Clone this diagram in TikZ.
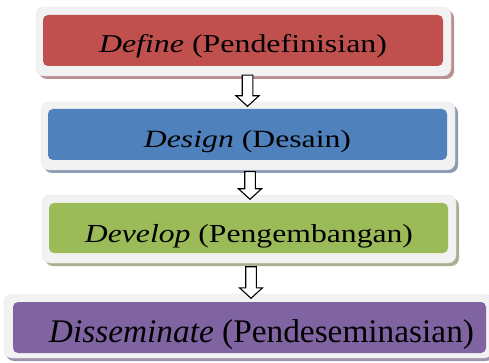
\documentclass[tikz,border=0pt]{standalone}
\usepackage{fontspec}
\setmainfont{Liberation Serif}
\usetikzlibrary{calc,shadows}
\definecolor{cRed}{HTML}{C0504D}
\definecolor{cBlue}{HTML}{4F81BD}
\definecolor{cGreen}{HTML}{9BBB59}
\definecolor{cPurple}{HTML}{8064A2}
\definecolor{shRed}{HTML}{B99090}
\definecolor{shBlue}{HTML}{8C9DB3}
\definecolor{shGreen}{HTML}{A5B192}
\definecolor{shPurple}{HTML}{9E94AD}
\definecolor{frameGray}{HTML}{F2F2F2}
\tikzset{
  frame/.style={rectangle, rounded corners=8pt, fill=frameGray, draw=frameGray!90!gray, line width=0.4pt, inner sep=0pt},
  inner/.style={rounded corners=5pt},
  label/.style={anchor=base, inner sep=0pt, text=black},
  blockarrow/.style={draw=black, fill=white, line width=1.1pt, line join=miter,
    to path={let \p1=(\tikztostart), \p2=(\tikztotarget) in
      (\x1-5.3pt,\y1) -- (\x1-5.3pt,\y2+6pt) -- (\x1-11.5pt,\y2+6pt) -- (\x1,\y2-4.5pt)
      -- (\x1+11.5pt,\y2+6pt) -- (\x1+5.3pt,\y2+6pt) -- (\x1+5.3pt,\y1) -- cycle}}
}
\begin{document}
\begin{tikzpicture}[x=1pt,y=-1pt]
\useasboundingbox (0,0) rectangle (489,363);
% box 1
\node[frame, minimum width=415pt, minimum height=69pt, drop shadow={shadow xshift=3pt, shadow yshift=-3pt, fill=shRed, opacity=1}] (b1) at (243.5,41.5) {};
\fill[cRed, inner] (43,15) rectangle (443,66);
\node[label] (t1) at (243,53) {\fontsize{25.7}{30}\selectfont\resizebox{288pt}{\height}{\textit{Define} (Pendefinisian)}};
% box 2
\node[frame, minimum width=414pt, minimum height=68pt, drop shadow={shadow xshift=3pt, shadow yshift=-3pt, fill=shBlue, opacity=1}] (b2) at (248,136) {};
\fill[cBlue, inner] (48,109) rectangle (447,160);
\node[label] (t2) at (247.5,148) {\fontsize{24.8}{30}\selectfont\resizebox{207pt}{\height}{\textit{Design} (Desain)}};
% box 3
\node[frame, minimum width=414pt, minimum height=68pt, drop shadow={shadow xshift=3pt, shadow yshift=-3pt, fill=shGreen, opacity=1}] (b3) at (249,229) {};
\fill[cGreen, inner] (49,203) rectangle (448,253);
\node[label] (t3) at (249,242) {\fontsize{26}{30}\selectfont\resizebox{328pt}{\height}{\textit{Develop} (Pengembangan)}};
% box 4
\node[frame, minimum width=488pt, minimum height=64pt, drop shadow={shadow xshift=2pt, shadow yshift=-3pt, fill=shPurple, opacity=1}] (b4) at (248,326) {};
\fill[cPurple, inner] (13,302) rectangle (486,353);
\node[label] (t4) at (261.5,342) {\fontsize{33}{38}\selectfont\resizebox{425pt}{\height}{\textit{Disseminate} (Pendeseminasian)}};
% arrows
\draw[blockarrow] ($(b1.south)+(4,-1)$) to (b2.north);
\draw[blockarrow] ($(b2.south)+(2,1.5)$) to (b3.north);
\draw[blockarrow] ($(b3.south)+(2,3.5)$) to (b4.north);
\end{tikzpicture}
\end{document}
